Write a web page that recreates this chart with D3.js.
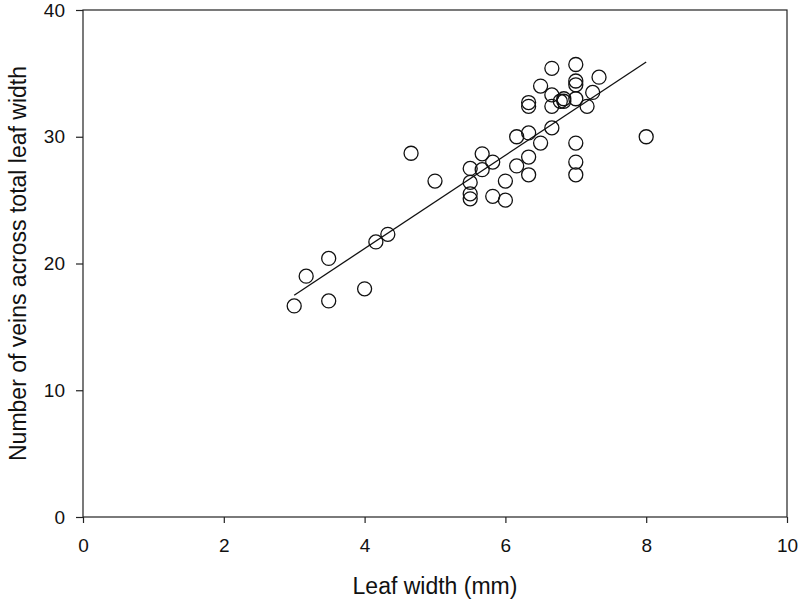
<!DOCTYPE html>
<html>
<head>
<meta charset="utf-8">
<script src="https://cdn.jsdelivr.net/npm/d3@7"></script>
<style>
  body { margin: 0; background: #fff; }
  svg { display: block; font-family: "Liberation Sans", Arial, sans-serif; }
</style>
</head>
<body>
<div id="chart"></div>
<script>
// leaf width (mm) and vein counts
const leafWidth = [3.0, 3.17, 3.49, 3.49, 4.0, 4.16, 4.33, 4.66, 5.0,
  5.5, 5.5, 5.5, 5.5, 5.67, 5.67, 5.82, 5.82, 6.0, 6.0, 6.16, 6.16,
  6.33, 6.33, 6.33, 6.33, 6.33, 6.5, 6.5, 6.66, 6.66, 6.66, 6.66,
  6.78, 6.83, 6.83, 7.0, 7.0, 7.0, 7.0, 7.0, 7.0, 7.0, 7.16, 7.24, 7.33, 8.0];
const veinCount = [16.65, 19.0, 20.4, 17.05, 18.0, 21.7, 22.3, 28.7, 26.5,
  27.5, 26.4, 25.5, 25.1, 28.65, 27.4, 28.0, 25.3, 26.5, 25.0, 30.0, 27.7,
  32.7, 32.4, 30.3, 28.4, 27.0, 34.0, 29.5, 35.4, 33.3, 32.4, 30.7,
  32.8, 33.0, 32.8, 35.7, 34.4, 34.1, 33.0, 29.5, 28.0, 27.0, 32.4, 33.5, 34.7, 30.0];

// fitted regression line end points
const fitX = [3, 8];
const fitY = [17.5, 35.9];

const xTicks = [0, 2, 4, 6, 8, 10];
const yTicks = [0, 10, 20, 30, 40];

const width = 800, height = 603;
const margin = {left: 83, top: 10, right: 13, bottom: 86};

const svg = d3.select("#chart").append("svg")
    .attr("width", width)
    .attr("height", height);

var x = d3.scaleLinear()
    .domain([0, 10])
    .range([margin.left, width - margin.right]);

var y = d3.scaleLinear()
    .domain([0, 40])
    .range([height - margin.bottom, margin.top]);

// frame
svg.append("rect")
    .attr("x", x(0))
    .attr("y", y(40))
    .attr("width", x(10) - x(0))
    .attr("height", y(0) - y(40))
    .attr("fill", "none")
    .attr("stroke", "#222")
    .attr("stroke-width", 1.2);

var xAxis = svg.append("g")
    .attr("transform", `translate(0, ${y(0)})`)
    .call(d3.axisBottom(x).tickValues(xTicks).tickSize(6).tickPadding(16).tickFormat(d3.format("d")));

var yAxis = svg.append("g")
    .attr("transform", `translate(${x(0)}, 0)`)
    .call(d3.axisLeft(y).tickValues(yTicks).tickSize(7).tickPadding(11).tickFormat(d3.format("d")));

[xAxis, yAxis].forEach(a => {
    a.select(".domain").remove();
    a.selectAll("line").attr("stroke", "#222").attr("stroke-width", 1.2);
    a.selectAll("text").attr("font-size", 19).attr("fill", "#111")
        .attr("font-family", "Liberation Sans, Arial, sans-serif");
});

// regression line
svg.append("line")
    .attr("x1", x(fitX[0])).attr("y1", y(fitY[0]))
    .attr("x2", x(fitX[1])).attr("y2", y(fitY[1]))
    .attr("stroke", "#111")
    .attr("stroke-width", 1.3);

svg.selectAll("circle.pt")
    .data(leafWidth.map((d, i) => [d, veinCount[i]]))
    .enter().append("circle")
    .attr("class", "pt")
    .attr("cx", d => x(d[0]))
    .attr("cy", d => y(d[1]))
    .attr("r", 7)
    .attr("fill", "none")
    .attr("stroke", "#111")
    .attr("stroke-width", 1.3);

svg.append("text")
    .attr("x", (x(0) + x(10)) / 2)
    .attr("y", 594)
    .attr("text-anchor", "middle")
    .attr("font-size", 23)
    .attr("fill", "#111")
    .text("Leaf width (mm)");

svg.append("text")
    .attr("transform", `translate(26, ${(y(0) + y(40)) / 2}) rotate(-90)`)
    .attr("text-anchor", "middle")
    .attr("font-size", 23)
    .attr("fill", "#111")
    .text("Number of veins across total leaf width");
</script>
</body>
</html>
